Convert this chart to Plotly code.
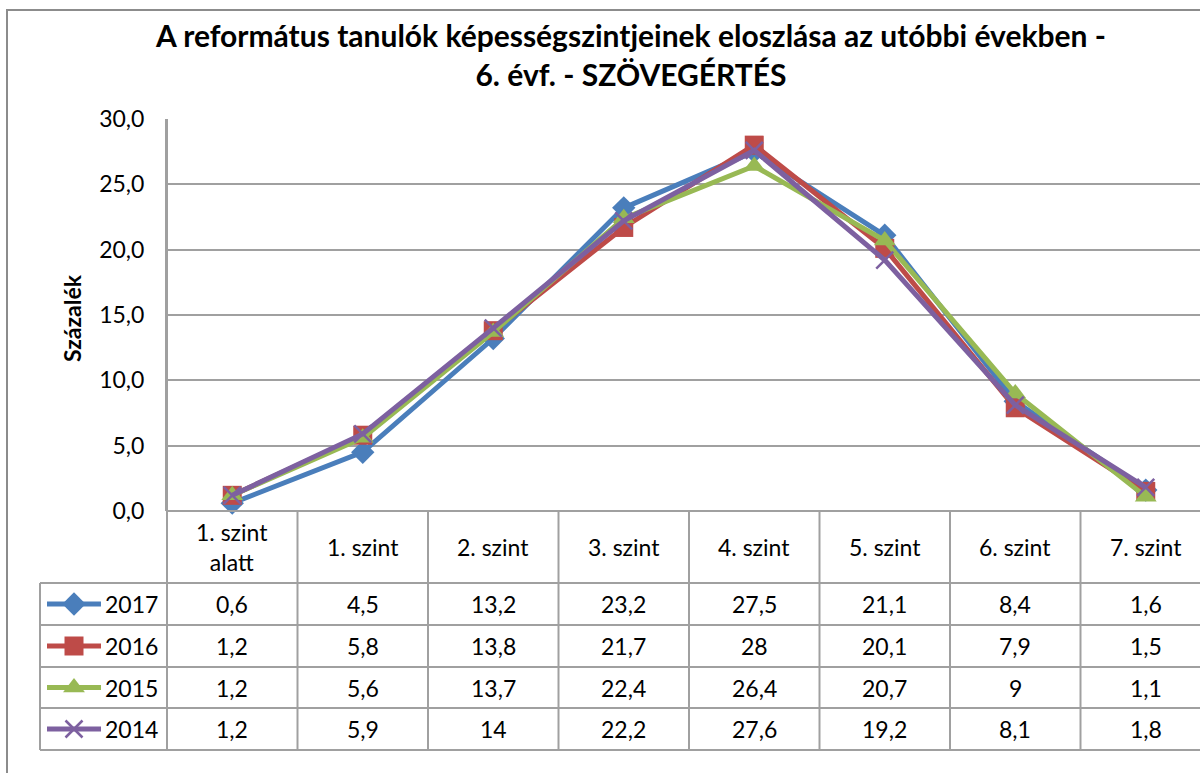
import plotly.graph_objects as go

categories = ["1. szint<br>alatt", "1. szint", "2. szint", "3. szint",
              "4. szint", "5. szint", "6. szint", "7. szint"]
series_names = ["2017", "2016", "2015", "2014"]
v2017 = [0.6, 4.5, 13.2, 23.2, 27.5, 21.1, 8.4, 1.6]
v2016 = [1.2, 5.8, 13.8, 21.7, 28, 20.1, 7.9, 1.5]
v2015 = [1.2, 5.6, 13.7, 22.4, 26.4, 20.7, 9, 1.1]
v2014 = [1.2, 5.9, 14, 22.2, 27.6, 19.2, 8.1, 1.8]
series_values = [v2017, v2016, v2015, v2014]
y_ticks = [0, 5, 10, 15, 20, 25, 30]
y_tick_labels = ["0,0", "5,0", "10,0", "15,0", "20,0", "25,0", "30,0"]

colors = ["#4A7EBB", "#BE4B48", "#98B954", "#7D60A0"]
symbols = ["diamond", "square", "triangle-up", "x-thin"]
msizes = [18, 19, 19, 17]

FONT = "Lato, Carlito, Calibri, sans-serif"
FS = 23
W, H = 1200, 773
PL, PR, PT, PB = 167, 1200, 119, 511  # plot area pixels
COL = 130.5
X0 = -0.5
X1 = X0 + (PR - PL) / COL
GRID = "#A0A0A0"


def fx(px):
    return px / W


def fy(py):
    return 1 - py / H


def xval2px(v):
    return PL + (v - X0) * COL


def mk(s, c, ms):
    m = dict(symbol=s, size=ms, color=c)
    if s == "x-thin":
        m["line"] = dict(color=c, width=2.5)
    return m


fig = go.Figure()

xs = list(range(len(categories)))
for name, vals, c, s, ms in zip(series_names, series_values, colors, symbols, msizes):
    fig.add_trace(go.Scatter(
        x=xs, y=vals, mode="lines+markers", name=name,
        line=dict(color=c, width=5), marker=mk(s, c, ms), cliponaxis=False,
        showlegend=False, hoverinfo="skip"))

shapes = []
annotations = []

# outer chart border
shapes.append(dict(type="rect", xref="paper", yref="paper",
                   x0=fx(7), x1=fx(1215), y0=fy(800), y1=fy(10),
                   line=dict(color="#8C8C8C", width=2), fillcolor="rgba(0,0,0,0)",
                   layer="below"))

# table geometry
header_top, header_bot = 511, 583
row_bounds = [583, 625, 667, 708, 750]
legend_left = 40

shapes.append(dict(type="line", xref="paper", yref="paper",
                   x0=fx(PL), x1=1.02, y0=fy(header_top), y1=fy(header_top),
                   line=dict(color=GRID, width=2)))
for yb in row_bounds:
    shapes.append(dict(type="line", xref="paper", yref="paper",
                       x0=fx(legend_left), x1=1.02, y0=fy(yb), y1=fy(yb),
                       line=dict(color=GRID, width=2)))
shapes.append(dict(type="line", xref="paper", yref="paper",
                   x0=fx(legend_left), x1=fx(legend_left),
                   y0=fy(row_bounds[0]), y1=fy(row_bounds[-1]),
                   line=dict(color=GRID, width=2)))
for k in range(len(categories) + 1):
    xp = fx(xval2px(k - 0.5))
    shapes.append(dict(type="line", xref="paper", yref="paper",
                       x0=xp, x1=xp, y0=fy(PT if k == 0 else header_top),
                       y1=fy(row_bounds[-1]),
                       line=dict(color=GRID, width=2)))

# header labels
for i, cat in enumerate(categories):
    annotations.append(dict(x=i, y=fy((header_top + header_bot) / 2), xref="x", yref="paper",
                            text=cat, showarrow=False, font=dict(family=FONT, size=FS, color="#000"),
                            xanchor="center", yanchor="middle", align="center"))

# rows
for r, (name, vals, c, s, ms) in enumerate(zip(series_names, series_values, colors, symbols, msizes)):
    yc = (row_bounds[r] + row_bounds[r + 1]) / 2
    for i, v in enumerate(vals):
        txt = f"{v:g}".replace(".", ",")
        annotations.append(dict(x=i, y=fy(yc), xref="x", yref="paper", text=txt,
                                showarrow=False, font=dict(family=FONT, size=FS, color="#000"),
                                xanchor="center", yanchor="middle"))
    annotations.append(dict(x=fx(103), y=fy(yc), xref="paper", yref="paper",
                            text=name, showarrow=False, font=dict(family=FONT, size=FS, color="#000"),
                            xanchor="left", yanchor="middle"))
    # legend key on a full-figure axis pair in pixel units
    fig.add_trace(go.Scatter(
        x=[47, 101], y=[yc, yc], mode="lines", xaxis="x2", yaxis="y2",
        line=dict(color=c, width=5), cliponaxis=False,
        showlegend=False, hoverinfo="skip"))
    fig.add_trace(go.Scatter(
        x=[74], y=[yc], mode="markers", xaxis="x2", yaxis="y2",
        marker=mk(s, c, ms), cliponaxis=False,
        showlegend=False, hoverinfo="skip"))

annotations.append(dict(x=fx(72), y=fy(318), xref="paper", yref="paper",
                        text="<b>Százalék</b>", textangle=-90, showarrow=False,
                        font=dict(family=FONT, size=FS, color="#000"),
                        xanchor="center", yanchor="middle"))

fig.update_layout(
    width=W, height=H,
    margin=dict(l=0, r=0, t=0, b=0, autoexpand=False),
    paper_bgcolor="white", plot_bgcolor="rgba(0,0,0,0)",
    title=dict(text="<b>A református tanulók képességszintjeinek eloszlása az utóbbi években -<br>6. évf. - SZÖVEGÉRTÉS</b>",
               x=631 / W, xanchor="center", y=1 - 47 / H, yanchor="middle",
               font=dict(family=FONT, size=30, color="#000")),
    xaxis=dict(domain=[fx(PL), 1], range=[X0, X1], showticklabels=False, showgrid=False,
               zeroline=False, showline=False, ticks="", fixedrange=True),
    yaxis=dict(domain=[fy(PB), fy(PT)], range=[0, 30], tickvals=y_ticks, ticktext=y_tick_labels,
               showgrid=True, gridcolor=GRID, gridwidth=2, zeroline=False,
               showline=True, linecolor=GRID, linewidth=2, ticks="",
               ticklabelstandoff=16, fixedrange=True,
               tickfont=dict(family=FONT, size=FS, color="#000")),
    xaxis2=dict(domain=[0, 1], range=[0, W], visible=False, anchor="y2", fixedrange=True),
    yaxis2=dict(domain=[0, 1], range=[H, 0], visible=False, anchor="x2", fixedrange=True),
    shapes=shapes, annotations=annotations,
    showlegend=False,
)

fig.write_html("out.html", config={"displayModeBar": False},
               post_script="document.body.style.margin='0';document.body.style.overflow='hidden';")
